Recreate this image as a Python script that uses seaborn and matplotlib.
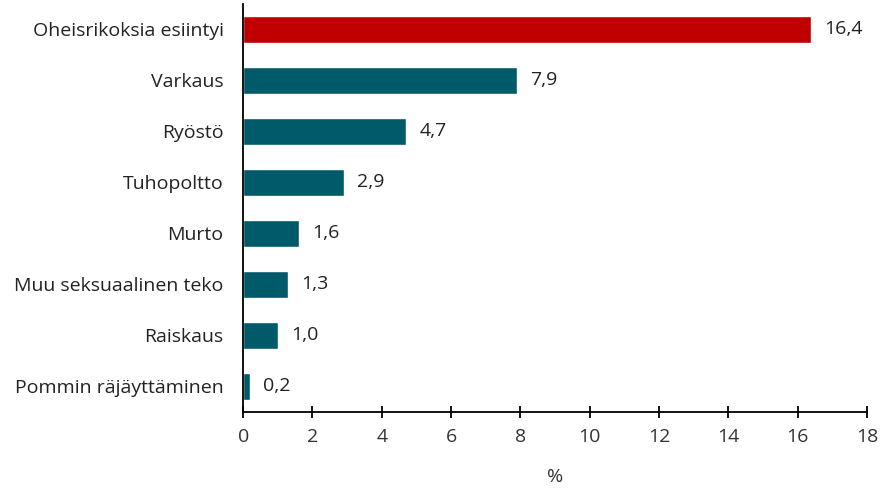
import matplotlib
matplotlib.use("Agg")
import matplotlib.pyplot as plt
import seaborn as sns
import pandas as pd

categories = ["Oheisrikoksia esiintyi", "Varkaus", "Ryöstö", "Tuhopoltto", "Murto",
              "Muu seksuaalinen teko", "Raiskaus", "Pommin räjäyttäminen"]
values = [16.4, 7.9, 4.7, 2.9, 1.6, 1.3, 1.0, 0.2]
bar_colors = ["#C00000"] + ["#005A69"] * 7
xticks = [0, 2, 4, 6, 8, 10, 12, 14, 16, 18]

sns.set_style("white")
plt.rcParams['font.family'] = ['Open Sans', 'DejaVu Sans']

df = pd.DataFrame({"cat": categories, "val": values})

fig = plt.figure(figsize=(8.81, 4.92), dpi=100)
ax = fig.add_axes([0.276, 0.163, 0.708, 0.829])
sns.barplot(data=df, x="val", y="cat", hue="cat", palette=bar_colors,
            legend=False, width=0.52, ax=ax, saturation=1)

for i, v in enumerate(values):
    ax.text(v + 0.38, i, f"{v:.1f}".replace(".", ","), va="center", ha="left",
            fontsize=14, color="#222222")

ax.set_xlim(0, 18)
ax.set_ylim(7.5, -0.5)
ax.set_xticks(xticks)
ax.set_xticklabels([str(t) for t in xticks], fontsize=14, color="#333333")
ax.tick_params(axis="x", bottom=True, direction="inout", length=9, width=1.3,
               color="black", pad=7)
ax.tick_params(axis="y", left=False, length=0, labelsize=14, pad=14, labelcolor="#222222")
ax.set_xlabel("%", fontsize=14, color="#333333", labelpad=16)
ax.set_ylabel("")
for s in ["top", "right"]:
    ax.spines[s].set_visible(False)
for s in ["left", "bottom"]:
    ax.spines[s].set_color("black")
    ax.spines[s].set_linewidth(1.3)

fig.savefig("out.png", dpi=100)
